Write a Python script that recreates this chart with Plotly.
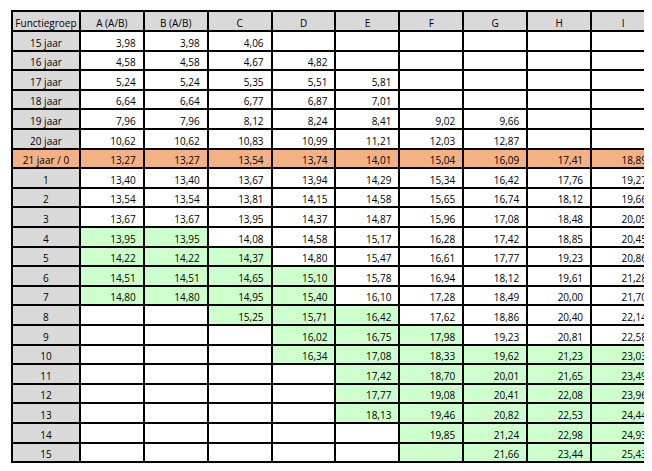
import plotly.graph_objects as go

header = ["Functiegroep", "A (A/B)", "B (A/B)", "C", "D", "E", "F", "G", "H", "I"]
rows = ["15 jaar", "16 jaar", "17 jaar", "18 jaar", "19 jaar", "20 jaar", "21 jaar / 0",
        "1", "2", "3", "4", "5", "6", "7", "8", "9", "10", "11", "12", "13", "14", "15"]
N = None
col_A = [3.98, 4.58, 5.24, 6.64, 7.96, 10.62, 13.27, 13.40, 13.54, 13.67, 13.95, 14.22, 14.51, 14.80, N, N, N, N, N, N, N, N]
col_B = [3.98, 4.58, 5.24, 6.64, 7.96, 10.62, 13.27, 13.40, 13.54, 13.67, 13.95, 14.22, 14.51, 14.80, N, N, N, N, N, N, N, N]
col_C = [4.06, 4.67, 5.35, 6.77, 8.12, 10.83, 13.54, 13.67, 13.81, 13.95, 14.08, 14.37, 14.65, 14.95, 15.25, N, N, N, N, N, N, N]
col_D = [N, 4.82, 5.51, 6.87, 8.24, 10.99, 13.74, 13.94, 14.15, 14.37, 14.58, 14.80, 15.10, 15.40, 15.71, 16.02, 16.34, N, N, N, N, N]
col_E = [N, N, 5.81, 7.01, 8.41, 11.21, 14.01, 14.29, 14.58, 14.87, 15.17, 15.47, 15.78, 16.10, 16.42, 16.75, 17.08, 17.42, 17.77, 18.13, N, N]
col_F = [N, N, N, N, 9.02, 12.03, 15.04, 15.34, 15.65, 15.96, 16.28, 16.61, 16.94, 17.28, 17.62, 17.98, 18.33, 18.70, 19.08, 19.46, 19.85, N]
col_G = [N, N, N, N, 9.66, 12.87, 16.09, 16.42, 16.74, 17.08, 17.42, 17.77, 18.12, 18.49, 18.86, 19.23, 19.62, 20.01, 20.41, 20.82, 21.24, 21.66]
col_H = [N, N, N, N, N, N, 17.41, 17.76, 18.12, 18.48, 18.85, 19.23, 19.61, 20.00, 20.40, 20.81, 21.23, 21.65, 22.08, 22.53, 22.98, 23.44]
col_I = [N, N, N, N, N, N, 18.89, 19.27, 19.66, 20.05, 20.45, 20.86, 21.28, 21.70, 22.14, 22.58, 23.03, 23.49, 23.96, 24.44, 24.93, 25.43]
cols = [col_A, col_B, col_C, col_D, col_E, col_F, col_G, col_H, col_I]

# green highlight ranges (row indices, inclusive) per column
green = [(10, 13), (10, 13), (11, 14), (12, 16), (14, 19), (15, 21), (16, 21), (16, 21), (16, 21)]

def fmt(v):
    return "" if v is None else f"{v:.2f}".replace(".", ",")

GREY, ORANGE, GREENC, WHITE = "#D9D9D9", "#F4B183", "#CCFFCC", "#FFFFFF"
values = [rows] + [[fmt(v) for v in c] for c in cols]
fills = [[ORANGE if i == 6 else GREY for i in range(len(rows))]]
for (g0, g1) in green:
    fills.append([ORANGE if i == 6 else (GREENC if g0 <= i <= g1 else WHITE) for i in range(len(rows))])

fig = go.Figure(go.Table(
    columnwidth=[68] + [64] * 9,
    header=dict(values=header, fill_color=GREY, align="center", height=20,
                line=dict(color="black", width=2),
                font=dict(family="Open Sans", size=10, color="black")),
    cells=dict(values=values, fill_color=fills, align=["center"] + ["right"] * 9, height=19.6,
               line=dict(color="black", width=2),
               font=dict(family="Open Sans", size=10, color="black")),
    domain=dict(x=[4/652, 647/652], y=[0, 1 - 3/471]),
))
fig.update_layout(width=652, height=471, margin=dict(l=0, r=0, t=0, b=0),
                  paper_bgcolor="white")
fig.write_html("out.html")
